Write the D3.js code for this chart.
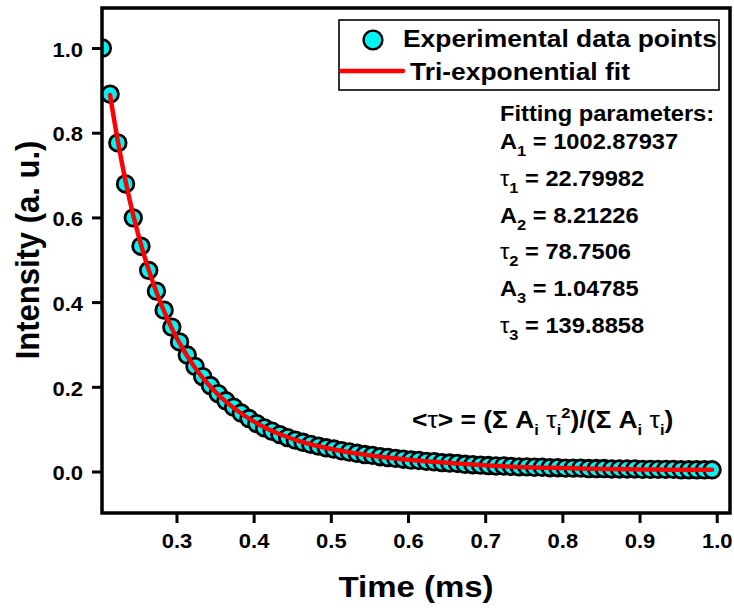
<!DOCTYPE html>
<html>
<head>
<meta charset="utf-8">
<script src="https://cdn.jsdelivr.net/npm/d3@7"></script>
<style>
  body { margin: 0; background: #fff; }
  svg text { font-family: "Liberation Sans", Arial, sans-serif; font-weight: 700; fill: #000; }
</style>
</head>
<body>
<div id="chart"></div>
<script>
// decay curve: measured points (cyan) + tri-exponential fit (red)
const times = [
  0.204, 0.214, 0.224, 0.234, 0.244, 0.254, 0.264, 0.274, 0.284, 0.294,
  0.304, 0.314, 0.324, 0.334, 0.344, 0.354, 0.364, 0.374, 0.384, 0.394,
  0.404, 0.414, 0.424, 0.434, 0.444, 0.454, 0.464, 0.474, 0.484, 0.494,
  0.504, 0.514, 0.524, 0.534, 0.544, 0.554, 0.564, 0.574, 0.584, 0.594,
  0.604, 0.614, 0.624, 0.634, 0.644, 0.654, 0.664, 0.674, 0.684, 0.694,
  0.704, 0.714, 0.724, 0.734, 0.744, 0.754, 0.764, 0.774, 0.784, 0.794,
  0.804, 0.814, 0.824, 0.834, 0.844, 0.854, 0.864, 0.874, 0.884, 0.894,
  0.904, 0.914, 0.924, 0.934, 0.944, 0.954, 0.964, 0.974, 0.984, 0.994
];
const intensity = [
  1.000, 0.891, 0.776, 0.679, 0.599, 0.532, 0.475, 0.426, 0.381, 0.341,
  0.306, 0.275, 0.248, 0.224, 0.203, 0.184, 0.167, 0.152, 0.138, 0.125,
  0.113, 0.103, 0.095, 0.087, 0.080, 0.074, 0.069, 0.064, 0.060, 0.056,
  0.053, 0.049, 0.046, 0.043, 0.040, 0.038, 0.035, 0.033, 0.031, 0.029,
  0.027, 0.026, 0.024, 0.023, 0.021, 0.020, 0.019, 0.017, 0.016, 0.015,
  0.014, 0.013, 0.013, 0.012, 0.011, 0.011, 0.010, 0.010, 0.009, 0.009,
  0.008, 0.008, 0.008, 0.007, 0.007, 0.007, 0.006, 0.006, 0.006, 0.006,
  0.005, 0.005, 0.005, 0.005, 0.005, 0.004, 0.004, 0.004, 0.004, 0.004
];
const fitTimes = [
  0.214, 0.224, 0.234, 0.244, 0.254, 0.264, 0.274, 0.284, 0.294, 0.304,
  0.324, 0.344, 0.364, 0.384, 0.404, 0.434, 0.464, 0.504, 0.554, 0.604,
  0.654, 0.704, 0.754, 0.804, 0.854, 0.904, 0.954, 0.994
];
const fitIntensity = [
  0.889, 0.780, 0.686, 0.605, 0.536, 0.476, 0.424, 0.378, 0.338, 0.303,
  0.245, 0.200, 0.165, 0.137, 0.114, 0.088, 0.069, 0.052, 0.037, 0.027,
  0.020, 0.014, 0.010, 0.008, 0.006, 0.005, 0.004, 0.004
];
const xTicks = [0.3, 0.4, 0.5, 0.6, 0.7, 0.8, 0.9, 1.0];
const yTicks = [0.0, 0.2, 0.4, 0.6, 0.8, 1.0];

const paramSymbols = ['A', 'τ', 'A', 'τ', 'A', 'τ'];
const paramIndex = ['1', '1', '2', '2', '3', '3'];
const paramValues = ['1002.87937', '22.79982', '8.21226', '78.7506', '1.04785', '139.8858'];

const width = 734, height = 608;
const box = { left: 102, right: 730, top: 8, bottom: 513 };
const SX = 1.1;   // the text in the original is a bit wide

const x = d3.scaleLinear().domain([0.2035, 1.0172]).range([box.left, box.right]);
const y = d3.scaleLinear().domain([-0.098, 1.0945]).range([box.bottom, box.top]);

const svg = d3.select('#chart').append('svg')
  .attr('width', width).attr('height', height);

svg.append('defs').append('clipPath').attr('id', 'plot-clip')
  .append('rect')
  .attr('x', box.left).attr('y', box.top)
  .attr('width', box.right - box.left).attr('height', box.bottom - box.top);

// text placed at (tx, ty) and widened
function wideText(parent, tx, ty, str, size, anchor) {
  return parent.append('text')
    .attr('transform', `translate(${tx},${ty}) scale(${SX},1)`)
    .attr('font-size', size + 'px')
    .attr('text-anchor', anchor || 'start')
    .text(str);
}

// axes (ticks outward, no domain line, frame drawn separately)
const xAxis = svg.append('g').attr('transform', `translate(0,${box.bottom})`)
  .call(d3.axisBottom(x).tickValues(xTicks).tickSize(10).tickFormat(d3.format('.1f')));
xAxis.select('.domain').remove();
xAxis.selectAll('.tick line').attr('stroke', '#000').attr('stroke-width', 3);
xAxis.selectAll('.tick text')
  .attr('y', 0).attr('dy', null)
  .attr('font-size', '20px')
  .attr('transform', `translate(0,35) scale(${SX},1)`);

const yAxis = svg.append('g').attr('transform', `translate(${box.left},0)`)
  .call(d3.axisLeft(y).tickValues(yTicks).tickSize(10).tickFormat(d3.format('.1f')));
yAxis.select('.domain').remove();
yAxis.selectAll('.tick line').attr('stroke', '#000').attr('stroke-width', 3);
yAxis.selectAll('.tick text')
  .attr('x', 0).attr('dy', '0.36em')
  .attr('font-size', '20px')
  .attr('transform', `translate(-19,1) scale(${SX},1)`);

// data
const plot = svg.append('g').attr('clip-path', 'url(#plot-clip)');
const points = times.map((t, i) => ({ t, v: intensity[i] }));
plot.selectAll('circle.pt').data(points).join('circle')
  .attr('class', 'pt')
  .attr('cx', d => x(d.t)).attr('cy', d => y(d.v))
  .attr('r', 8.3)
  .attr('fill', '#00f4f4').attr('stroke', '#000').attr('stroke-width', 2.8);

const fit = fitTimes.map((t, i) => ({ t, v: fitIntensity[i] }));
plot.append('path').datum(fit)
  .attr('fill', 'none').attr('stroke', '#ff0000').attr('stroke-width', 4.5)
  .attr('stroke-linecap', 'round')
  .attr('d', d3.line().x(d => x(d.t)).y(d => y(d.v)).curve(d3.curveMonotoneX));

// frame
svg.append('rect')
  .attr('x', box.left).attr('y', box.top)
  .attr('width', box.right - box.left).attr('height', box.bottom - box.top)
  .attr('fill', 'none').attr('stroke', '#000').attr('stroke-width', 3.5);

// legend
const leg = svg.append('g');
leg.append('rect').attr('x', 339).attr('y', 20).attr('width', 380).attr('height', 70)
  .attr('fill', '#fff').attr('stroke', '#000').attr('stroke-width', 1.6);
leg.append('circle').attr('cx', 373).attr('cy', 40).attr('r', 9.4)
  .attr('fill', '#00f4f4').attr('stroke', '#000').attr('stroke-width', 2.4);
wideText(leg, 403, 47, 'Experimental data points', 24);
leg.append('line').attr('x1', 341).attr('x2', 403).attr('y1', 71).attr('y2', 71)
  .attr('stroke', '#ff0000').attr('stroke-width', 4.5).attr('stroke-linecap', 'round');
wideText(leg, 410, 80, 'Tri-exponential fit', 24);

// fitting parameters
wideText(svg, 500, 121, 'Fitting parameters:', 21.5);
paramSymbols.forEach((s, i) => {
  const t = wideText(svg, 500, 149 + i * 36.8, '', 21.5);
  t.append('tspan').attr('font-weight', s === 'τ' ? 400 : 700).text(s);
  t.append('tspan').attr('font-size', '15px').attr('dy', 7).text(paramIndex[i]);
  t.append('tspan').attr('dy', -7).text(' = ' + paramValues[i]);
});

// average lifetime formula
const f = wideText(svg, 412, 428, '', 24);
f.append('tspan').text('<');
f.append('tspan').attr('font-weight', 400).text('τ');
f.append('tspan').text('> = (Σ A');
f.append('tspan').attr('font-size', '15px').attr('dy', 7).text('i');
f.append('tspan').attr('dy', -7).text(' ');
f.append('tspan').attr('font-weight', 400).text('τ');
f.append('tspan').attr('font-size', '15px').attr('dy', 7).text('i');
f.append('tspan').attr('font-size', '15px').attr('dy', -17).text('2');
f.append('tspan').attr('dy', 10).text(')/(Σ A');
f.append('tspan').attr('font-size', '15px').attr('dy', 7).text('i');
f.append('tspan').attr('dy', -7).text(' ');
f.append('tspan').attr('font-weight', 400).text('τ');
f.append('tspan').attr('font-size', '15px').attr('dy', 7).text('i');
f.append('tspan').attr('dy', -7).text(')');

// axis titles
wideText(svg, 416, 597, 'Time (ms)', 30, 'middle');
svg.append('text')
  .attr('transform', `translate(39,250) scale(${SX},1) rotate(-90)`)
  .attr('font-size', '31px').attr('text-anchor', 'middle')
  .text('Intensity (a. u.)');
</script>
</body>
</html>
